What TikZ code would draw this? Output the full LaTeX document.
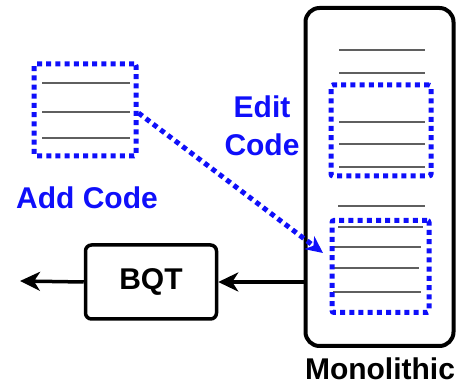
\documentclass[tikz,border=0pt]{standalone}
\usepackage{fontspec}
\setmainfont{Liberation Sans}
\usetikzlibrary{arrows.meta}
\definecolor{codeblue}{RGB}{15,15,250}
\definecolor{linegray}{RGB}{95,95,95}
\begin{document}
\begin{tikzpicture}[x=1pt,y=-1pt,
  dotbox/.style={draw=codeblue, line width=5pt, dash pattern=on 5pt off 4.2pt, rounded corners=2pt, inner sep=0pt},
  codeline/.style={draw=linegray, line width=2.2pt},
  blk/.style={draw=black, line width=3.5pt, rounded corners=6pt, inner sep=0pt},
  lbl/.style={font=\fontsize{30}{32}\selectfont\bfseries, inner sep=0pt},
  blacktip/.style={-{Stealth[length=20pt,width=19pt,inset=6pt]}, line width=3.5pt}
]
\useasboundingbox (0,0) rectangle (456,387);

% Monolithic block
\node[blk, line width=4pt, rounded corners=14pt, minimum width=148pt, minimum height=338pt] (mono) at (379.5,177) {};
\node[lbl, anchor=north] (monolbl) at (380,358) {Monolithic};

% code lines inside monolithic
\draw[codeline] (339,50) -- (425,50);
\draw[codeline] (339,73) -- (425,73);
\draw[codeline] (339,122) -- (425,122);
\draw[codeline] (339,144) -- (425,144);
\draw[codeline] (339,167) -- (425,167);
\draw[codeline] (338,206) -- (425,206);
\draw[codeline] (338,227) -- (423,227);
\draw[codeline] (333,247) -- (421,247);
\draw[codeline] (333,268) -- (419,268);
\draw[codeline] (333,292) -- (421,292);

% edit box and inserted box
\node[dotbox, minimum width=100pt, minimum height=91pt] (edit) at (381,130.5) {};
\node[dotbox, minimum width=97pt, minimum height=92pt] (ins) at (380.5,266.5) {};

% Add code box
\node[dotbox, minimum width=102pt, minimum height=92pt] (add) at (85,110) {};
\draw[codeline] (42,83) -- (130,83);
\draw[codeline] (42,112) -- (130,112);
\draw[codeline] (42,138) -- (130,138);
\node[lbl, text=codeblue] (addlbl) at (87,198) {Add Code};

% Edit code label
\node[lbl, text=codeblue, align=center, font=\fontsize{30}{38}\selectfont\bfseries] (editlbl) at (262,126) {Edit\\Code};

% dotted arrow
\coordinate (tip) at (323,253);
\draw[draw=codeblue, line width=5pt, dash pattern=on 5pt off 4.2pt, -{Stealth[length=17pt,width=16pt,inset=5pt,sep=0pt]}] (add.east |- 0,113) -- (tip);

% BQT
\node[blk, minimum width=131pt, minimum height=74pt, lbl] (bqt) at (151,282) {BQT};
\coordinate (out) at (20,281);
\draw[blacktip] (mono.west |- bqt.east) -- (bqt.east);
\draw[blacktip] (bqt.west) -- (out);
\end{tikzpicture}
\end{document}
